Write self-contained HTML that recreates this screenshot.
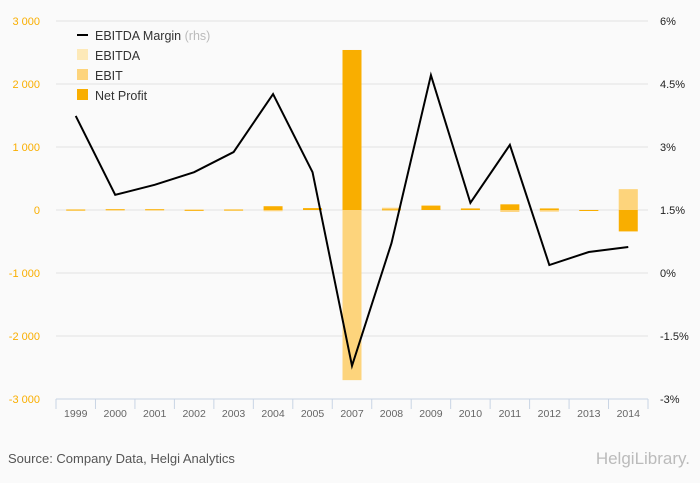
<!DOCTYPE html>
<html><head><meta charset="utf-8"><style>
body{margin:0;background:#fafafa;font-family:"Liberation Sans",sans-serif;overflow:hidden}
svg{display:block}
svg text{font-family:"Liberation Sans",sans-serif}
</style></head><body>
<svg width="700" height="483" xmlns="http://www.w3.org/2000/svg">
<rect width="700" height="483" fill="#fafafa"/>
<g id="grid"></g><g id="bars"></g><g id="line"></g><g id="axes"></g>
<g font-size="12.5" fill="#333">
<line x1="77" y1="35" x2="88" y2="35" stroke="#000" stroke-width="2"/>
<text x="95" y="40">EBITDA Margin <tspan fill="#bbb">(rhs)</tspan></text>
<rect x="77" y="49" width="11" height="11" fill="#fde9b8"/>
<text x="95" y="60">EBITDA</text>
<rect x="77" y="69" width="11" height="11" fill="#fdd47c"/>
<text x="95" y="80">EBIT</text>
<rect x="77" y="89" width="11" height="11" fill="#f9ae00"/>
<text x="95" y="100">Net Profit</text>
</g>
<text x="8" y="463" font-size="13" fill="#555">Source: Company Data, Helgi Analytics</text>
<text x="690" y="464" font-size="17" fill="#bbb" text-anchor="end" font-family="Liberation Serif">HelgiLibrary.</text>
</svg>
<script>
const categories=["1999","2000","2001","2002","2003","2004","2005","2007","2008","2009","2010","2011","2012","2013","2014"];
const ebitda=[5,10,10,5,5,20,15,-2700,35,20,15,-30,-25,-15,330];
const ebit=[5,10,10,5,5,-20,15,-2700,35,20,15,-30,-25,-15,330];
const netProfit=[8,12,12,3,8,60,30,2540,10,70,25,90,25,-10,-340];
const margin=[3.74,1.86,2.1,2.4,2.88,4.26,2.4,-2.21,0.71,4.71,1.67,3.05,0.19,0.5,0.62];
const leftTicks=[-3000,-2000,-1000,0,1000,2000,3000];
const leftLabels=["-3 000","-2 000","-1 000","0","1 000","2 000","3 000"];
const rightTicks=[-3,-1.5,0,1.5,3,4.5,6];
const rightLabels=["-3%","-1.5%","0%","1.5%","3%","4.5%","6%"];
const NS="http://www.w3.org/2000/svg";
const x0=56,x1=648,yTop=21,yBot=399;
const yL=v=>yTop+(3000-v)/6000*(yBot-yTop);
const yR=v=>yTop+(6-v)/9*(yBot-yTop);
const bw=(x1-x0)/categories.length;
const xc=i=>x0+bw*(i+0.5);
function mk(t,a,p){const e=document.createElementNS(NS,t);for(const k in a)e.setAttribute(k,a[k]);p.appendChild(e);return e;}
const G=document.getElementById('grid'),B=document.getElementById('bars'),L=document.getElementById('line'),A=document.getElementById('axes');
leftTicks.forEach((v,i)=>{
 if(i>0){const g=mk('line',{x1:x0,x2:x1,y1:yL(v),y2:yL(v),stroke:'#e3e3e3'},G);
 
 }
 const t=mk('text',{x:40,y:yL(v)+4,'font-size':11,fill:'#f9ae00','text-anchor':'end'},A);t.textContent=leftLabels[i];
 
 
});
rightTicks.forEach((v,i)=>{
 const t=mk('text',{x:660,y:yR(v)+4,'font-size':11,fill:'#222'},A);t.textContent=rightLabels[i];
 
 
});
const ax=mk('line',{x1:x0,x2:x1,y1:yBot,y2:yBot,stroke:'#c8d4e4'},A);


for(let i=0;i<=categories.length;i++){const tk=mk('line',{x1:x0+bw*i,x2:x0+bw*i,y1:yBot,y2:yBot+10,stroke:'#c8d4e4'},A);
 
 }
categories.forEach((c,i)=>{
 const t=mk('text',{x:xc(i),y:yBot+18,'font-size':10.5,fill:'#666','text-anchor':'middle'},A);t.textContent=c;
 
 
});
function bars(arr,col,name){arr.forEach((v,i)=>{
 const ya=yL(Math.max(v,0)),yb=yL(Math.min(v,0));
 const r=mk('rect',{x:xc(i)-9.5,y:ya,width:19,height:Math.max(yb-ya,1),fill:col},B);
 
 
});}
bars(ebitda,'#fde9b8','ebitda');bars(ebit,'#fdd47c','ebit');bars(netProfit,'#f9ae00','net-profit');
const pl=mk('polyline',{points:margin.map((v,i)=>xc(i)+','+yR(v)).join(' '),fill:'none',stroke:'#000','stroke-width':2},L);


</script>
</body></html>
